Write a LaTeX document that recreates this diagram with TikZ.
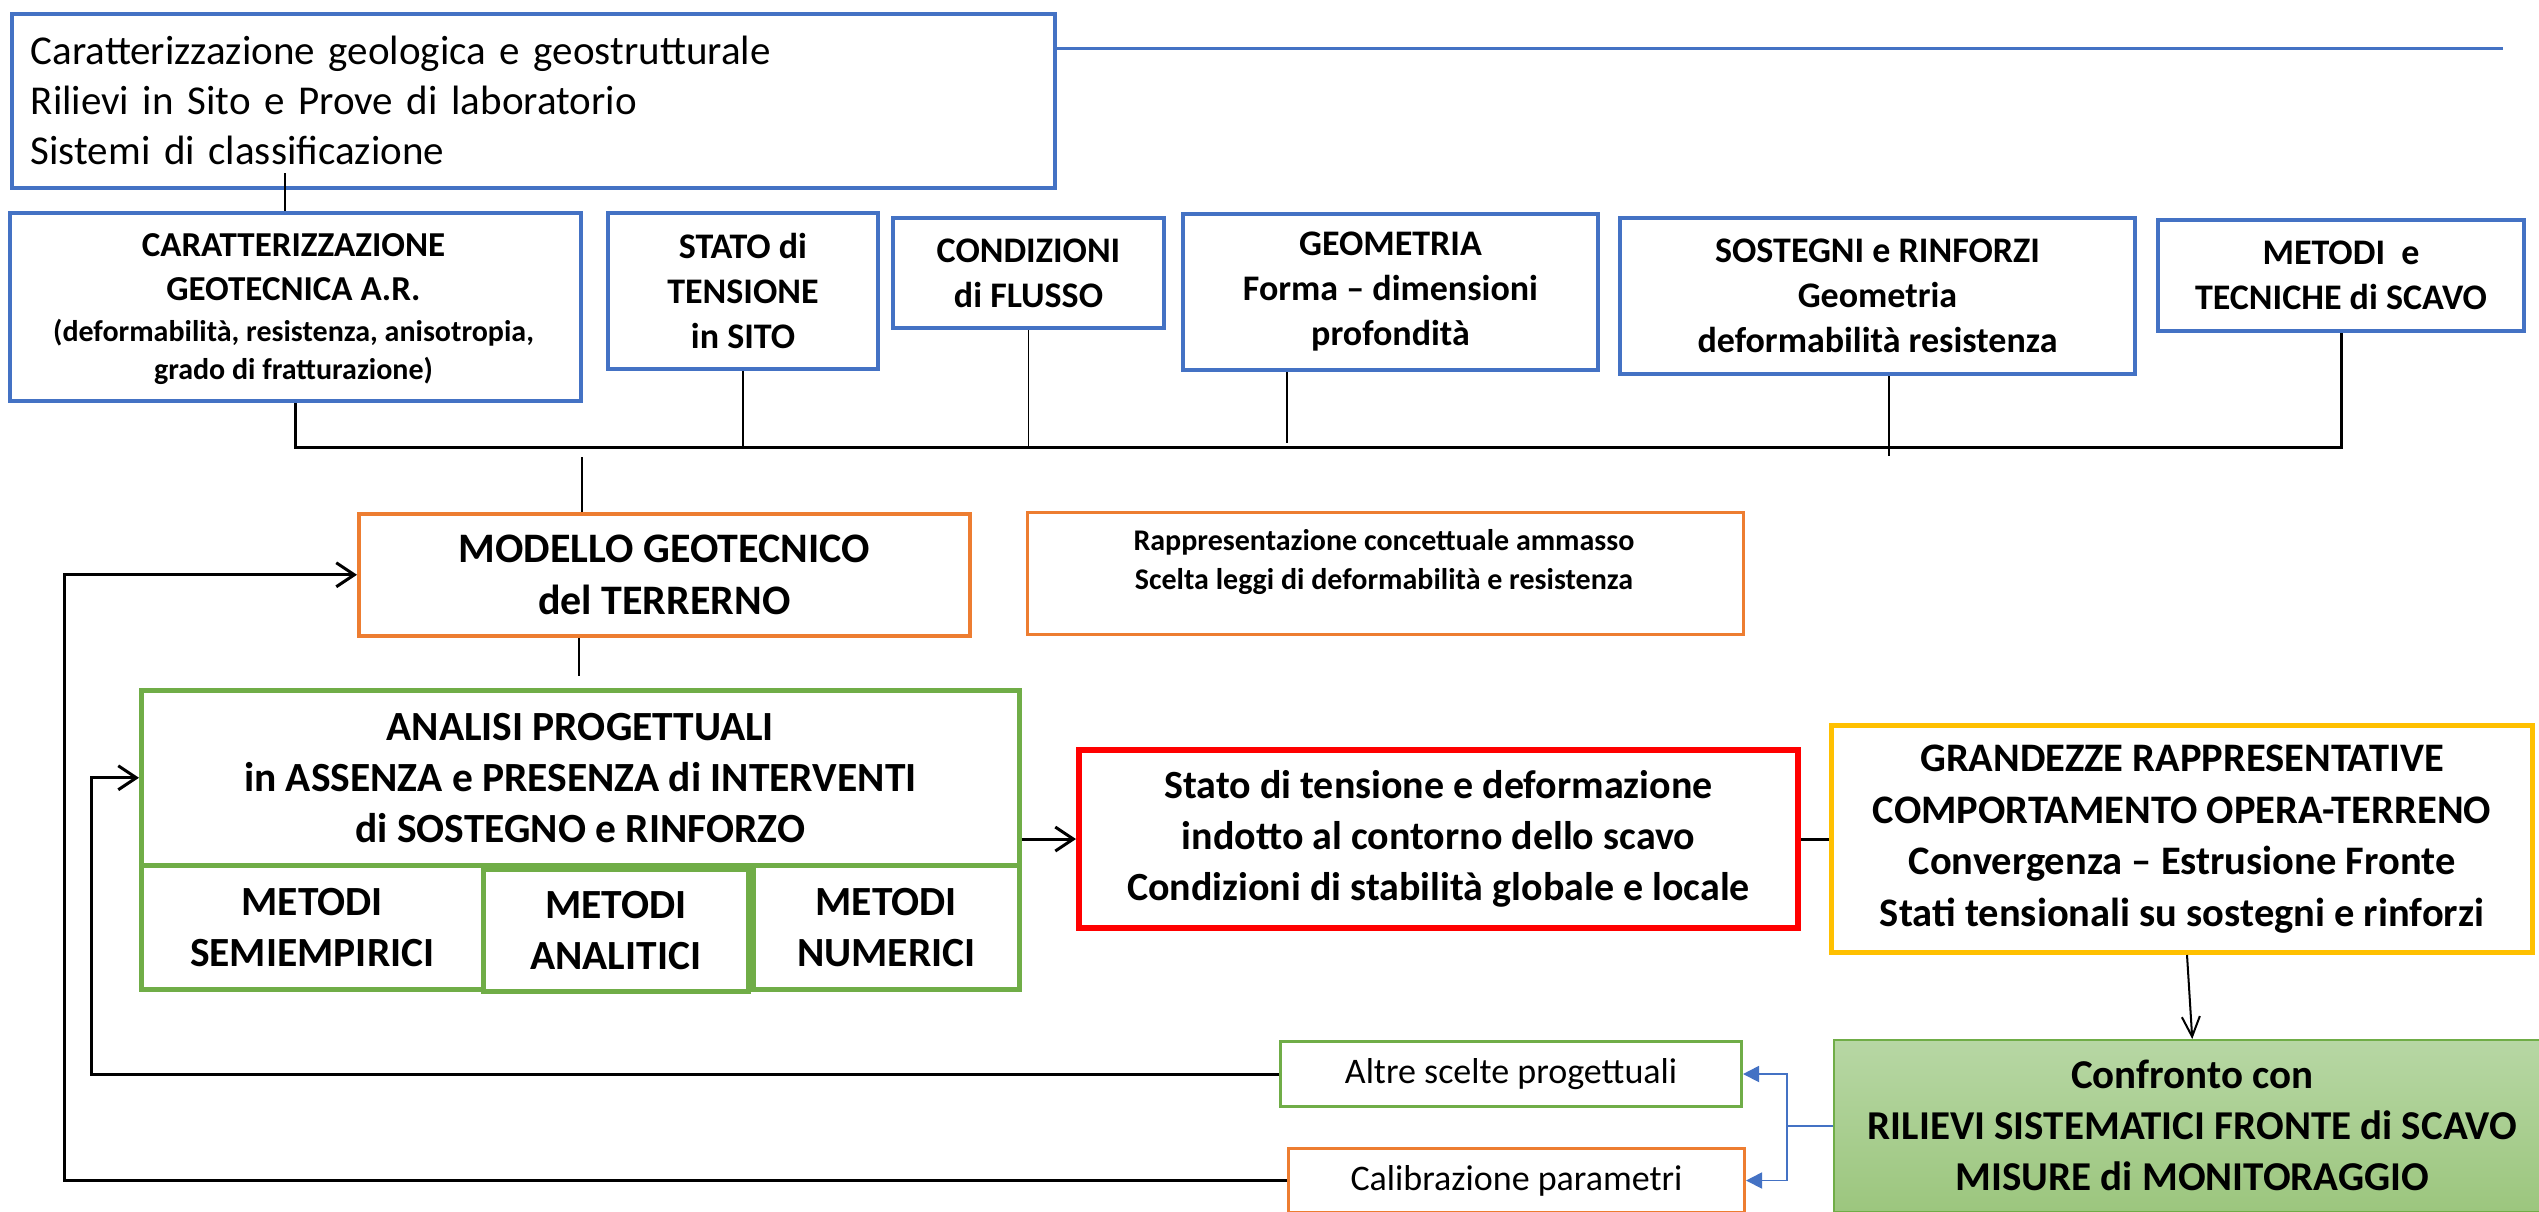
\documentclass[tikz,border=0pt]{standalone}
\usepackage{fontspec}
\setmainfont{Carlito}
\usetikzlibrary{arrows.meta,calc}
\definecolor{cblue}{HTML}{4472C4}
\definecolor{corange}{HTML}{ED7D31}
\definecolor{cgreen}{HTML}{70AD47}
\definecolor{cred}{HTML}{FF0000}
\definecolor{cyellow}{HTML}{FFC000}
\definecolor{cgtop}{HTML}{B7D7A4}
\definecolor{cgbot}{HTML}{9CC67E}
\begin{document}
\begin{tikzpicture}[x=1pt,y=-1pt,
  bx/.style={draw, rectangle, anchor=north west, inner sep=0pt, align=center, text=black},
  bluebox/.style={bx, draw=cblue, line width=4pt},
  orangebox/.style={bx, draw=corange, line width=3.5pt},
  greenbox/.style={bx, draw=cgreen, line width=4.5pt},
  txt/.style={align=center, inner sep=0pt, text=black},
  rowfont/.style={font=\fontsize{36}{45}\selectfont\bfseries},
  bigfont/.style={font=\fontsize{40}{51}\selectfont\bfseries},
  capfont/.style={font=\fontsize{41.5}{51}\selectfont\bfseries},
  conn/.style={draw=black, line width=3pt},
  midline/.style={draw=black, line width=2pt},
  thinline/.style={draw=black, line width=1.3pt},
  barb/.style={-{Straight Barb[length=18pt,width=24pt]}},
  bluearrow/.style={draw=cblue, line width=1.8pt, -{Triangle[length=16pt,width=16pt]}},
]
\useasboundingbox (0,0) rectangle (2539,1211);
\fill[white] (0,0) rectangle (2539,1211);

% coordinates for connector routing
\coordinate (tl) at (2503,48);
\coordinate (tx) at (285,173);
\coordinate (busy) at (0,447);
\coordinate (gx) at (1287,443);
\coordinate (sx) at (1889,456);
\coordinate (s1) at (582,457);
\coordinate (s2b) at (579,676);
\coordinate (gsx) at (2187,0);
\coordinate (bj) at (1787,0);
\coordinate (f1) at (91,0);
\coordinate (f2) at (64,0);

% top box
\node[bluebox, line width=3.5pt, align=left, text width=1005pt, inner xsep=19pt,
      minimum height=174pt, font=\fontsize{41}{50}\selectfont] (top) at (10,12)
  {Caratterizzazione geologica e geostrutturale\\Rilievi in Sito e Prove di laboratorio\\Sistemi di classificazione};

% first row
\node[bluebox, minimum width=571pt, minimum height=188pt] (cgeo) at (8,211) {};
\node[txt, font=\fontsize{35}{44}\selectfont\bfseries] (cgeoA) at (293.5,267)
  {CARATTERIZZAZIONE\\GEOTECNICA A.R.};
\node[txt, font=\fontsize{30}{38}\selectfont\bfseries] (cgeoB) at (293.5,352)
  {(deformabilità, resistenza, anisotropia,\\grado di fratturazione)};
\node[bluebox, rowfont, minimum width=270pt, minimum height=156pt] (stato) at (606,211)
  {STATO di\\TENSIONE\\in SITO};
\node[bluebox, rowfont, minimum width=271pt, minimum height=110pt] (cond) at (891,216)
  {CONDIZIONI\\di FLUSSO};
\node[bluebox, rowfont, minimum width=415pt, minimum height=156pt] (geom) at (1181,212)
  {GEOMETRIA\\Forma – dimensioni\\profondità};
\node[bluebox, rowfont, minimum width=515pt, minimum height=156pt] (sost) at (1618,216)
  {SOSTEGNI e RINFORZI\\Geometria\\deformabilità resistenza};
\node[bluebox, rowfont, minimum width=366pt, minimum height=111pt] (metodi) at (2156,218)
  {METODI\ \ e\\TECNICHE di SCAVO};

% model
\node[orangebox, font=\fontsize{42}{52}\selectfont\bfseries, minimum width=611pt, minimum height=122pt] (modello) at (357,512)
  {MODELLO GEOTECNICO\\del TERRERNO};
\node[orangebox, line width=3pt, minimum width=716pt, minimum height=122pt] (rapp) at (1026,511) {};
\node[txt, font=\fontsize{30}{39}\selectfont\bfseries] (rapptext) at (1384,562)
  {Rappresentazione concettuale ammasso\\Scelta leggi di deformabilità e resistenza};

% analysis
\node[greenbox, capfont, minimum width=878pt, minimum height=175pt] (analisi) at (139,688)
  {ANALISI PROGETTUALI\\in ASSENZA e PRESENZA di INTERVENTI\\di SOSTEGNO e RINFORZO};
\node[greenbox, capfont, minimum width=342pt, minimum height=124pt] (semi) at (139,863)
  {METODI\\SEMIEMPIRICI};
\node[greenbox, capfont, minimum width=265pt, minimum height=122pt] (anal) at (481,867)
  {METODI\\ANALITICI};
\node[greenbox, capfont, minimum width=266pt, minimum height=124pt] (num) at (751,863)
  {METODI\\NUMERICI};

% results
\node[bx, draw=cred, line width=6pt, bigfont, minimum width=719pt, minimum height=178pt] (statot) at (1076,747)
  {Stato di tensione e deformazione\\indotto al contorno dello scavo\\Condizioni di stabilità globale e locale};
\node[bx, draw=cyellow, line width=5pt, font=\fontsize{40.5}{51.5}\selectfont\bfseries, minimum width=701pt, minimum height=227pt] (grand) at (1829,723)
  {GRANDEZZE RAPPRESENTATIVE\\COMPORTAMENTO OPERA-TERRENO\\Convergenza – Estrusione Fronte\\Stati tensionali su sostegni e rinforzi};
\node[bx, draw=cgreen, line width=1.5pt, top color=cgtop, bottom color=cgbot,
      font=\fontsize{41}{51}\selectfont\bfseries, minimum width=717pt, minimum height=172pt] (conf) at (1833,1039)
  {Confronto con\\RILIEVI SISTEMATICI FRONTE di SCAVO\\MISURE di MONITORAGGIO};

% feedback boxes
\node[bx, draw=cgreen, line width=3pt, font=\fontsize{36}{40}\selectfont, minimum width=461pt, minimum height=65pt] (altre) at (1279,1040)
  {Altre scelte progettuali};
\node[bx, draw=corange, line width=3pt, font=\fontsize{36}{40}\selectfont, minimum width=456pt, minimum height=64pt] (calib) at (1287,1147)
  {Calibrazione parametri};

% connectors
\draw[draw=cblue, line width=3pt] (top.east |- tl) -- (tl);
\draw[midline] (tx) -- (cgeo.north -| tx);
\draw[conn] (cgeo.south) -- (cgeo.south |- busy) -| (metodi.south);
\draw[midline] (stato.south) -- (stato.south |- busy);
\draw[thinline] (cond.south) -- (cond.south |- busy);
\draw[thinline] (geom.south -| gx) -- (gx);
\draw[thinline] (sost.south -| sx) -- (sx);
\draw[midline] (s1) -- (s1 |- modello.north);
\draw[midline] (modello.south -| s2b) -- (s2b);
\draw[conn, barb] (analisi.east |- statot.west) -- (statot.west);
\draw[conn] (statot.east) -- (statot.east -| grand.west);
\draw[midline, -{Straight Barb[length=20pt,width=18pt]}] (grand.south -| gsx) -- (conf.north);
\draw[bluearrow] (conf.west) -- (conf.west -| bj) |- (altre.east);
\draw[bluearrow] (conf.west -| bj) |- (calib.east);
\draw[conn, barb] (altre.west) -- (altre.west -| f1) |- (analisi.west);
\draw[conn, barb] (calib.west) -- (calib.west -| f2) |- (modello.west);
\end{tikzpicture}
\end{document}
